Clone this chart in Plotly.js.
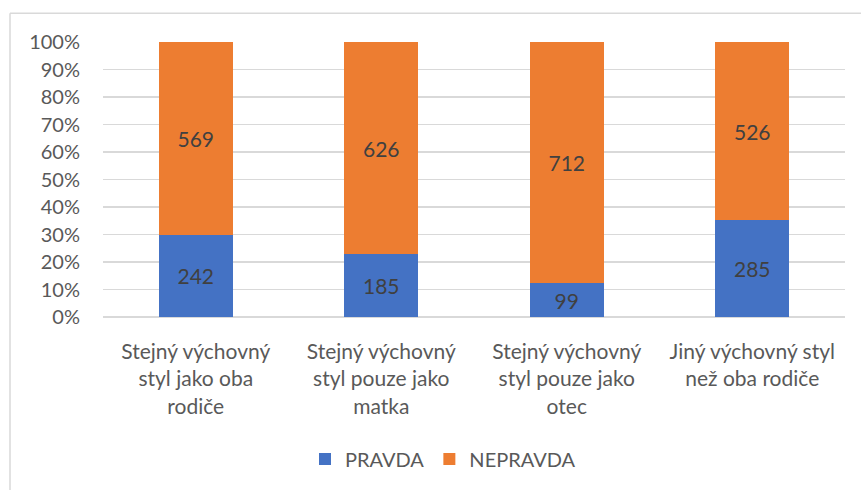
<!DOCTYPE html>
<html><head><meta charset="utf-8">
<script src="https://cdn.plot.ly/plotly-3.0.1.min.js"></script>
<style>body{margin:0;background:#fff}#chart{width:861px;height:490px}</style>
</head><body><div id="chart"></div>
<script>
const categories = [
  "Stejný výchovný<br>styl jako oba<br>rodiče",
  "Stejný výchovný<br>styl pouze jako<br>matka",
  "Stejný výchovný<br>styl pouze jako<br>otec",
  "Jiný výchovný styl<br>než oba rodiče"
];
const pravda = [242, 185, 99, 285];
const nepravda = [569, 626, 712, 526];
const yTicks = [0,10,20,30,40,50,60,70,80,90,100];

const FONT = "Lato, 'Open Sans', sans-serif";
const traces = [
  {type:'bar', name:'PRAVDA', x:categories, y:pravda, text:pravda.map(String),
   textposition:'inside', insidetextanchor:'middle', textangle:0,
   textfont:{family:FONT, size:21, color:'#404040'},
   marker:{color:'#4472C4'}, hoverinfo:'y+name'},
  {type:'bar', name:'NEPRAVDA', x:categories, y:nepravda, text:nepravda.map(String),
   textposition:'inside', insidetextanchor:'middle', textangle:0,
   textfont:{family:FONT, size:21, color:'#404040'},
   marker:{color:'#ED7D31'}, hoverinfo:'y+name'}
];
const L=103, R=16, T=42, B=171, W=861-L-R, H=490-T-B;
const px = v => (v-L)/W, py = v => (490-B-v)/H;
const layout = {
  width:861, height:490,
  margin:{l:L, r:R, t:T, b:B, pad:0},
  barmode:'stack', barnorm:'percent', bargap:0.6,
  paper_bgcolor:'#fff', plot_bgcolor:'#fff',
  font:{family:FONT, size:20, color:'#595959'},
  showlegend:true,
  legend:{orientation:'h', x:px(443), xanchor:'center', y:py(462), yanchor:'middle',
          font:{family:FONT, size:20, color:'#595959'}, itemwidth:30, traceorder:'normal'},
  xaxis:{type:'category', showgrid:false, zeroline:false, showline:false, ticks:'',
         ticklabelstandoff:20, tickfont:{family:FONT, size:21, color:'#595959'}},
  yaxis:{range:[0,100], tickvals:yTicks, ticktext:yTicks.map(v=>v+'%'),
         showgrid:true, gridcolor:'#d9d9d9', gridwidth:1.5, zeroline:true, zerolinecolor:'#d9d9d9', zerolinewidth:1.5,
         showline:false, ticks:'', ticklabelstandoff:22,
         tickfont:{family:FONT, size:20, color:'#595959'}},
  shapes:[
    {type:'line', xref:'paper', yref:'paper', x0:px(10), x1:px(10), y0:py(13), y1:py(495), line:{color:'#d9d9d9', width:1.5}},
    {type:'line', xref:'paper', yref:'paper', x0:px(10), x1:px(870), y0:py(13), y1:py(13), line:{color:'#d9d9d9', width:1.5}}
  ]
};
Plotly.newPlot('chart', traces, layout, {displayModeBar:false, staticPlot:true});
</script></body></html>
